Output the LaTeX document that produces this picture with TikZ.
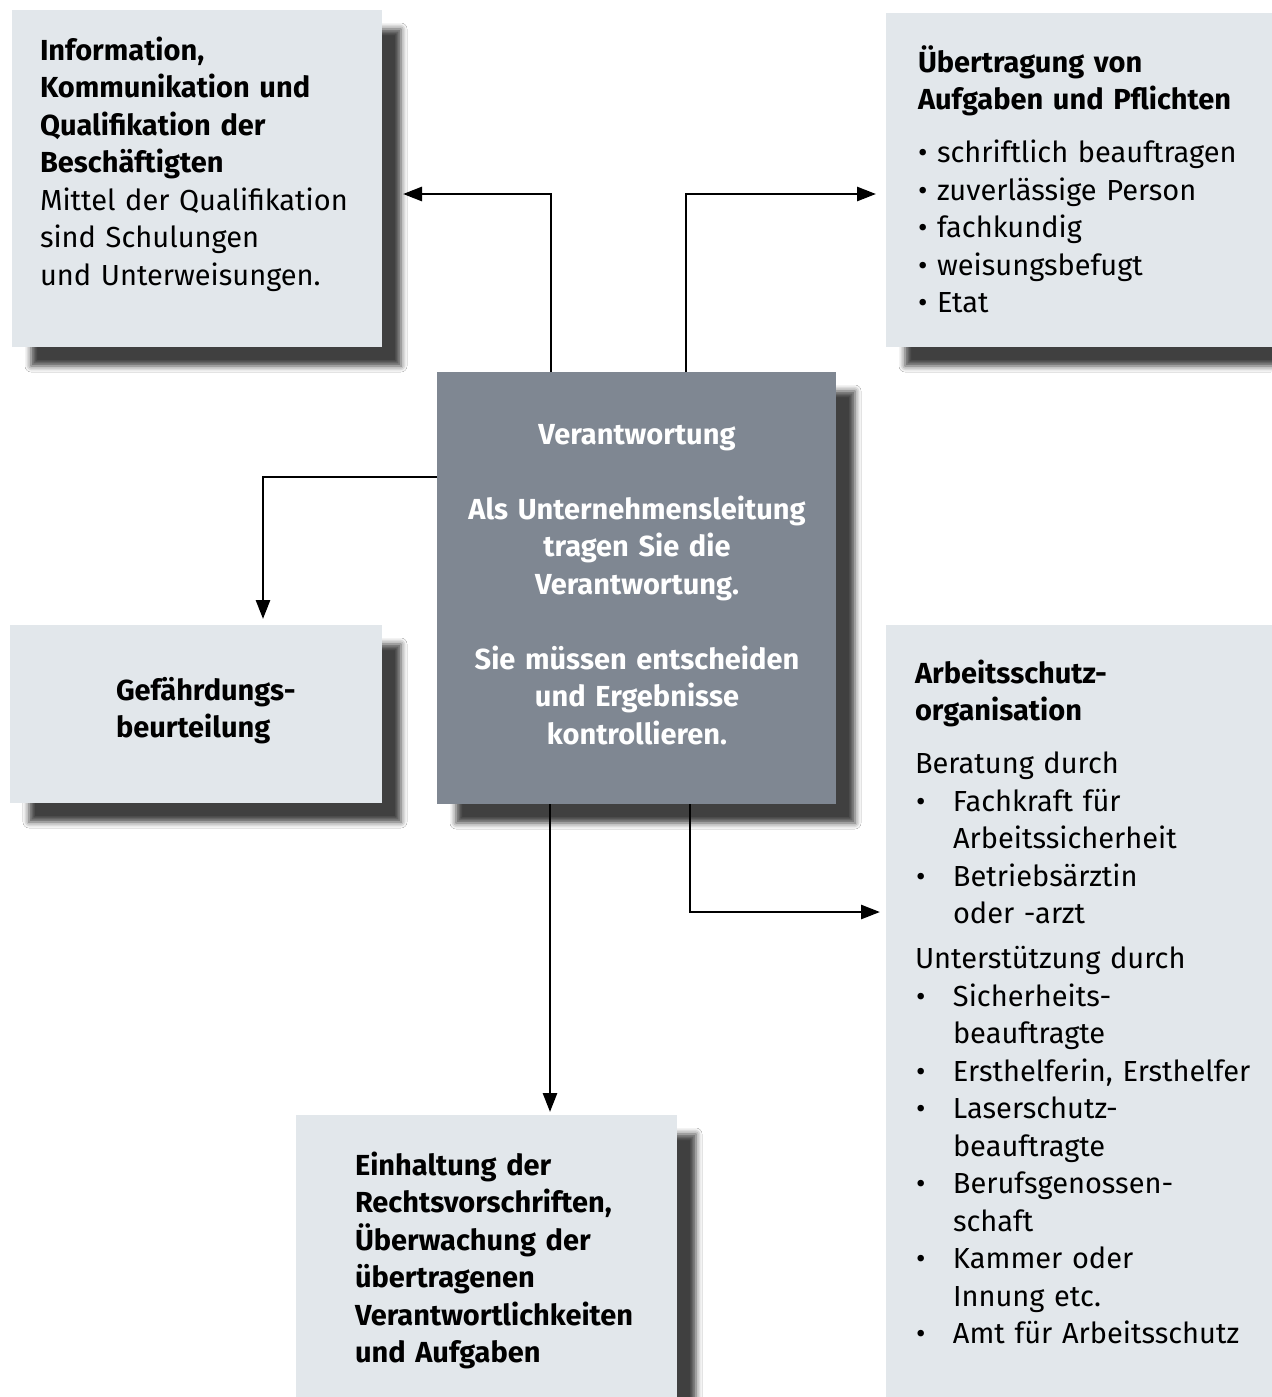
\documentclass[tikz,border=0pt]{standalone}
\usepackage{fontspec}
\setmainfont{Fira Sans}
\usetikzlibrary{arrows.meta,shadows.blur,fit,calc}

\definecolor{boxlight}{HTML}{E2E7EB}
\definecolor{boxdark}{HTML}{7F8792}

\tikzset{
  panel/.style={inner sep=0pt, outer sep=0pt, draw=none,
    blur shadow={shadow xshift=9.5pt, shadow yshift=-9.5pt,
                 shadow blur radius=3pt, shadow opacity=75}},
  lightpanel/.style={panel, fill=boxlight},
  darkpanel/.style={panel, fill=boxdark},
  txt/.style={anchor=base west, inner sep=0pt, outer sep=0pt,
    text width=220pt, align=left,
    font=\fontsize{14.5}{18.75}\selectfont},
  arr/.style={line width=1.4pt, -{Triangle[length=9.5pt,width=7pt]}}
}
% bullet item with hanging indent
\newcommand{\hangbullet}{\makebox[19pt][l]{\hspace{0.5pt}•}}
\newcommand{\hangcont}{\hspace*{19pt}}

\begin{document}
\begin{tikzpicture}[x=0.5pt, y=-0.5pt]
  \useasboundingbox (0,0) rectangle (1271,1397);
  \fill[white] (0,0) rectangle (1271,1397);

  % panels
  \node[lightpanel, fit={(12,10) (382,347)}] (A) {};
  \node[lightpanel, fit={(886,13) (1300,347)}] (B) {};
  \node[lightpanel, fit={(10,625) (382,803)}] (D) {};
  \node[lightpanel, fit={(886,625) (1300,1430)}] (E) {};
  \node[lightpanel, fit={(296,1115) (677,1430)}] (F) {};
  \node[darkpanel, fit={(437,372) (836,804)}] (C) {};

  % texts
  \node[txt] (Atext) at (40,60) {{\bfseries Information,\\Kommunikation und\\Qualifikation der\\Beschäftigten}\\Mittel der Qualifikation\\sind Schulungen\\und Unterweisungen.};

  \node[txt] (Btext) at (918,72) {{\bfseries Übertragung von\\Aufgaben und Pflichten}\\[7.75pt]
    • schriftlich beauftragen\\
    • zuverlässige Person\\
    • fachkundig\\
    • weisungsbefugt\\
    • Etat};

  \node[txt, anchor=base, align=center, text width=190pt, text=white, font=\fontsize{14.5}{18.75}\selectfont\bfseries] (Ctext) at (637,444)
    {Verantwortung\\[18.75pt]Als Unternehmensleitung\\tragen Sie die\\Verantwortung.\\[18.75pt]Sie müssen entscheiden\\und Ergebnisse\\kontrollieren.};

  \node[txt, font=\fontsize{14.5}{18.75}\selectfont\bfseries] (Dtext) at (116,700) {Gefährdungs-\\beurteilung};

  \node[txt] (Etext) at (915,683) {{\bfseries Arbeitsschutz-\\organisation}\\[7.75pt]
    Beratung durch\\
    \hangbullet Fachkraft für\\
    \hangcont Arbeitssicherheit\\
    \hangbullet Betriebsärztin\\
    \hangcont oder -arzt\\[3.75pt]
    Unterstützung durch\\
    \hangbullet Sicherheits-\\
    \hangcont beauftragte\\
    \hangbullet Ersthelferin, Ersthelfer\\
    \hangbullet Laserschutz-\\
    \hangcont beauftragte\\
    \hangbullet Berufsgenossen-\\
    \hangcont schaft\\
    \hangbullet Kammer oder\\
    \hangcont Innung etc.\\
    \hangbullet Amt für Arbeitsschutz};

  \node[txt, font=\fontsize{14.5}{18.75}\selectfont\bfseries] (Ftext) at (355,1175)
    {Einhaltung der\\Rechtsvorschriften,\\Überwachung der\\übertragenen\\Verantwortlichkeiten\\und Aufgaben};

  % connector bends and arrow tips
  \coordinate (e1) at (551,194);
  \coordinate (e2) at (686,194);
  \coordinate (e3) at (263,477);
  \coordinate (e4) at (550,1000);
  \coordinate (e5) at (690,912);
  \coordinate (tA) at ([xshift=10.5pt]A.east);
  \coordinate (tB) at ([xshift=-5pt]B.west);
  \coordinate (tD) at ([yshift=3pt]D.north);
  \coordinate (tE) at ([xshift=-3pt]E.west);
  \coordinate (tF) at ([yshift=1.5pt]F.north);

  % connectors
  \draw[arr] (e1 |- C.north) -- (e1) -- (tA |- e1);
  \draw[arr] (e2 |- C.north) -- (e2) -- (tB |- e2);
  \draw[arr] (C.west |- e3) -- (e3) -- (e3 |- tD);
  \draw[arr] (e4 |- C.south) -- (e4 |- tF);
  \draw[arr] (e5 |- C.south) -- (e5) -- (tE |- e5);
\end{tikzpicture}
\end{document}
